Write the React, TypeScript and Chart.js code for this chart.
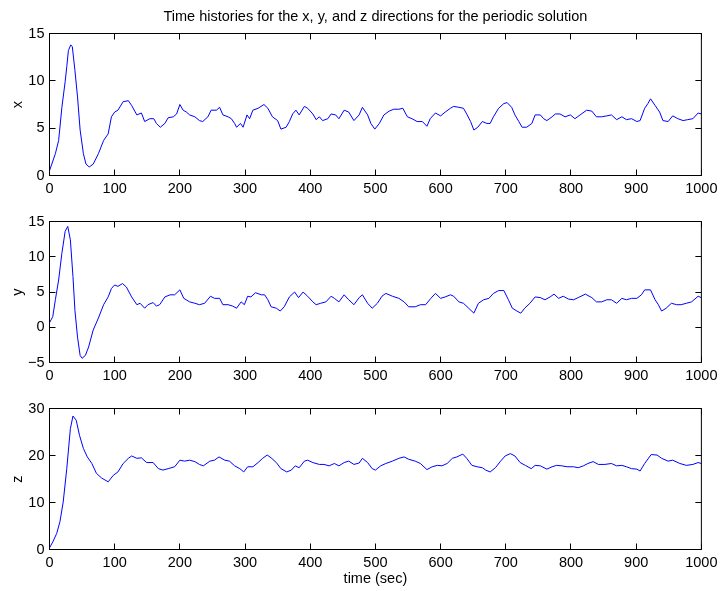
import React, { useEffect, useRef } from 'react';
import { Chart, registerables } from 'chart.js';

Chart.register(...registerables);

const FONT = '"Liberation Sans", Arial, Helvetica, sans-serif';

// ---- Data ----
const chartTitle = 'Time histories for the x, y, and z directions for the periodic solution';
const xAxisLabel = 'time (sec)';
const timeTicks = [0, 100, 200, 300, 400, 500, 600, 700, 800, 900, 1000];

const xTicks = [0, 5, 10, 15];
const yTicks = [-5, 0, 5, 10, 15];
const zTicks = [0, 10, 20, 30];

const xTimes = [0, 9, 14, 19, 24, 26.5, 29, 32.6, 35, 39, 43, 47, 52, 56, 61, 67, 75, 83, 90, 95, 100, 105, 113, 121, 126, 134, 141, 146, 154, 160, 164, 170, 177, 182, 190, 195, 200, 205, 210, 215, 223, 230, 235, 243, 248, 256, 261, 266, 274, 279, 284, 287, 293, 297, 303, 307, 312, 320, 329, 335, 342, 350, 355, 363, 368, 373, 378, 383, 391, 396, 404, 409, 414, 419, 427, 432, 439, 444, 452, 459, 467, 475, 480, 488, 493, 499, 506, 513, 521, 528, 536, 542, 549, 556, 564, 572, 579, 584, 592, 600, 607, 615, 620, 628, 635, 640, 646, 651, 657, 664, 671, 676, 681, 689, 697, 702, 709, 714, 720, 725, 732, 740, 745, 753, 758, 763, 771, 776, 783, 791, 799, 806, 814, 824, 832, 839, 847, 855, 862, 870, 878, 885, 893, 901, 906, 913, 918, 922, 929, 936, 941, 949, 956, 964, 972, 979, 987, 995, 1000];
const xValues = [0.5, 2.3, 3.7, 7.2, 9.9, 11.5, 13.2, 13.8, 13.6, 11.1, 8.3, 4.8, 2.3, 1.2, 0.9, 1.2, 2.3, 3.7, 4.4, 6.2, 6.7, 6.9, 7.8, 7.9, 7.4, 6.4, 6.6, 5.7, 6.0, 6.0, 5.5, 5.1, 5.5, 6.1, 6.2, 6.5, 7.5, 6.9, 6.7, 6.4, 6.2, 5.8, 5.7, 6.2, 6.9, 6.9, 7.2, 6.4, 6.2, 6.0, 5.5, 5.1, 5.5, 5.1, 6.4, 6.0, 6.9, 7.1, 7.5, 7.1, 6.2, 5.8, 4.9, 5.1, 5.7, 6.5, 6.9, 6.4, 7.3, 7.1, 6.5, 5.9, 6.2, 5.8, 6.0, 6.5, 6.4, 6.0, 6.9, 6.7, 5.8, 6.4, 7.2, 6.4, 5.5, 4.9, 5.5, 6.4, 6.8, 7.0, 7.0, 7.1, 6.2, 6.0, 5.7, 5.7, 5.2, 6.0, 6.6, 6.3, 6.7, 7.1, 7.3, 7.2, 7.1, 6.5, 5.7, 4.8, 5.1, 5.7, 5.5, 5.5, 6.2, 7.1, 7.6, 7.7, 7.2, 6.4, 5.7, 5.1, 5.1, 5.5, 6.4, 6.4, 6.0, 5.8, 6.2, 6.5, 6.5, 6.2, 6.4, 6.0, 6.4, 6.9, 6.8, 6.2, 6.2, 6.3, 6.4, 5.9, 6.2, 5.9, 6.0, 5.7, 5.8, 7.1, 7.6, 8.1, 7.4, 6.7, 5.8, 5.7, 6.3, 6.0, 5.8, 5.9, 6.0, 6.6, 6.5];

const yTimes = [0, 5, 9, 14, 19, 24, 28, 32, 36, 39, 43, 47, 50, 55, 60, 67, 75, 83, 90, 95, 100, 105, 112, 118, 126, 134, 139, 146, 151, 159, 164, 169, 177, 185, 192, 200, 206, 215, 223, 230, 238, 247, 253, 261, 266, 274, 281, 287, 294, 299, 304, 309, 316, 325, 330, 335, 340, 348, 354, 360, 368, 376, 382, 389, 396, 404, 409, 416, 424, 432, 437, 444, 452, 459, 467, 475, 480, 488, 495, 503, 510, 516, 526, 536, 544, 551, 561, 569, 577, 585, 592, 600, 607, 615, 620, 628, 635, 643, 651, 658, 666, 674, 681, 689, 697, 704, 710, 717, 723, 729, 737, 745, 753, 760, 768, 774, 781, 788, 796, 804, 811, 822, 832, 839, 847, 855, 862, 870, 878, 885, 893, 901, 908, 913, 922, 929, 934, 939, 946, 954, 962, 969, 977, 985, 995, 1000];
const yValues = [0.64, 1.5, 3.9, 6.7, 10.5, 13.6, 14.3, 12.4, 7.2, 2.4, -1.4, -4.0, -4.4, -4.0, -2.8, -0.4, 1.3, 3.2, 4.3, 5.5, 6.0, 5.8, 6.2, 5.7, 4.3, 3.2, 3.4, 2.7, 3.2, 3.5, 3.0, 3.2, 4.3, 4.6, 4.6, 5.3, 4.1, 3.6, 3.4, 3.2, 3.4, 4.4, 4.1, 4.1, 3.2, 3.2, 3.0, 2.7, 3.6, 3.2, 4.4, 4.3, 4.9, 4.6, 4.6, 3.9, 2.9, 2.7, 2.3, 2.9, 4.3, 5.0, 4.2, 5.0, 4.4, 3.6, 3.2, 3.4, 3.6, 4.4, 4.1, 3.6, 4.6, 3.9, 3.2, 4.2, 4.6, 3.4, 2.7, 3.4, 4.4, 4.8, 4.4, 4.1, 3.6, 2.9, 2.9, 3.2, 3.2, 4.1, 4.8, 4.1, 4.3, 4.6, 4.4, 3.6, 3.4, 2.7, 2.0, 3.4, 3.9, 4.1, 4.8, 5.2, 5.2, 3.9, 2.7, 2.3, 2.0, 2.7, 3.4, 4.3, 4.2, 3.9, 4.3, 4.7, 4.1, 4.4, 4.0, 3.9, 4.2, 4.7, 4.2, 3.6, 3.6, 3.9, 3.9, 3.4, 4.1, 3.9, 4.1, 4.1, 4.6, 5.3, 5.3, 3.9, 3.2, 2.3, 2.7, 3.4, 3.2, 3.2, 3.4, 3.6, 4.4, 4.2];

const zTimes = [0, 5, 11, 16, 21, 26.5, 32, 36, 41, 46, 52, 58, 65, 72, 80, 90, 98, 105, 113, 121, 126, 134, 141, 149, 159, 167, 174, 182, 192, 200, 207, 215, 223, 230, 236, 246, 253, 260, 269, 276, 284, 292, 298, 304, 312, 320, 327, 334, 340, 348, 355, 364, 371, 377, 383, 391, 396, 404, 414, 421, 429, 437, 444, 452, 459, 467, 475, 480, 488, 495, 500, 508, 516, 526, 536, 544, 551, 561, 569, 579, 587, 595, 602, 610, 618, 625, 634, 640, 648, 656, 664, 669, 676, 684, 692, 699, 707, 714, 722, 730, 739, 745, 753, 763, 771, 778, 786, 794, 804, 811, 819, 826, 834, 842, 852, 862, 870, 878, 885, 893, 901, 906, 913, 923, 932, 939, 949, 956, 967, 977, 987, 995, 1000];
const zValues = [0.35, 1.6, 3.4, 5.9, 10.1, 17.2, 25.7, 28.4, 27.5, 24.3, 21.5, 19.7, 18.3, 16.2, 15.2, 14.4, 15.8, 16.5, 18.3, 19.4, 19.9, 19.4, 19.5, 18.5, 18.5, 17.2, 16.9, 17.2, 17.6, 19.0, 18.8, 19.0, 18.7, 18.1, 17.8, 18.8, 19.0, 19.7, 19.0, 18.8, 17.8, 17.2, 16.5, 17.6, 17.6, 18.5, 19.4, 20.1, 19.5, 18.5, 17.2, 16.5, 16.9, 17.8, 17.4, 18.8, 19.0, 18.5, 18.1, 18.1, 17.8, 18.3, 17.8, 18.5, 18.8, 18.1, 18.4, 19.4, 18.5, 17.2, 16.9, 17.8, 18.3, 18.8, 19.4, 19.7, 19.2, 18.8, 18.3, 17.0, 17.6, 17.9, 17.8, 18.3, 19.4, 19.7, 20.3, 19.4, 17.9, 17.6, 17.4, 16.9, 16.5, 17.4, 18.8, 19.9, 20.4, 19.9, 18.5, 17.9, 17.2, 17.9, 17.8, 17.1, 17.6, 17.9, 17.8, 17.6, 17.6, 17.4, 17.8, 18.3, 18.7, 18.1, 18.1, 18.3, 17.8, 17.9, 17.6, 17.2, 17.1, 16.7, 18.3, 20.2, 20.1, 19.4, 18.8, 19.0, 18.3, 17.9, 18.1, 18.5, 18.3];

// ---- Helpers ----
const fmt = (v: number) => String(v).replace('-', '\u2212');

const boxPlugin = {
  id: 'matlabBox',
  afterDraw(chart: any) {
    const { ctx, chartArea: a, scales } = chart;
    const L = 6;
    ctx.save();
    ctx.strokeStyle = '#000';
    ctx.lineWidth = 1;
    ctx.beginPath();
    scales.x.ticks.forEach((t: any) => {
      const px = Math.floor(scales.x.getPixelForValue(t.value)) + 0.5;
      ctx.moveTo(px, a.bottom);
      ctx.lineTo(px, a.bottom - L);
      ctx.moveTo(px, a.top);
      ctx.lineTo(px, a.top + L);
    });
    scales.y.ticks.forEach((t: any) => {
      const py = Math.floor(scales.y.getPixelForValue(t.value)) + 0.5;
      ctx.moveTo(a.left, py);
      ctx.lineTo(a.left + L, py);
      ctx.moveTo(a.right, py);
      ctx.lineTo(a.right - L, py);
    });
    ctx.stroke();
    ctx.strokeRect(a.left, a.top, a.right - a.left, a.bottom - a.top);
    ctx.restore();
  },
};

type PanelProps = {
  times: number[];
  values: number[];
  yTickValues: number[];
  yLabel: string;
  top: number;
  height: number;
  padTop: number;
  xScaleHeight: number;
  title?: string;
  xLabel?: string;
};

function Panel(p: PanelProps) {
  const ref = useRef<HTMLCanvasElement>(null);
  useEffect(() => {
    if (!ref.current) return;
    const data = p.times.map((t, i) => ({ x: t, y: p.values[i] }));
    const tickFont = { family: FONT, size: 14.5, lineHeight: 1.2 };
    const chart = new Chart(ref.current, {
      type: 'line',
      data: {
        datasets: [
          {
            data,
            borderColor: '#0000ff',
            borderWidth: 1,
            pointRadius: 0,
            tension: 0,
            fill: false,
          },
        ],
      },
      options: {
        animation: false,
        responsive: false,
        devicePixelRatio: 1,
        events: [],
        layout: { padding: { left: 0, right: 18.5, top: p.title ? 0 : p.padTop, bottom: 0 } },
        plugins: {
          legend: { display: false },
          tooltip: { enabled: false },
          title: p.title
            ? {
                display: true,
                text: p.title,
                fullSize: false,
                color: '#000',
                font: { family: FONT, size: 14.5, weight: 'normal', lineHeight: 1.2 },
                padding: { top: 8, bottom: 8.1 },
              }
            : { display: false },
        },
        scales: {
          x: {
            type: 'linear',
            min: 0,
            max: 1000,
            offset: false,
            grid: { display: false, drawTicks: false },
            border: { display: false },
            ticks: {
              autoSkip: false,
              maxRotation: 0,
              color: '#000',
              font: tickFont,
              padding: 4.5,
              callback: (v: any) => fmt(Number(v)),
            },
            afterBuildTicks: (s: any) => {
              s.ticks = timeTicks.map((v) => ({ value: v }));
            },
            afterFit: (s: any) => {
              s.height = p.xScaleHeight;
            },
            title: p.xLabel
              ? {
                  display: true,
                  text: p.xLabel,
                  color: '#000',
                  font: tickFont,
                  padding: { top: 0, bottom: 3.3 },
                }
              : { display: false },
          },
          y: {
            type: 'linear',
            min: p.yTickValues[0],
            max: p.yTickValues[p.yTickValues.length - 1],
            grid: { display: false, drawTicks: false },
            border: { display: false },
            ticks: {
              autoSkip: false,
              color: '#000',
              font: tickFont,
              padding: 5,
              callback: (v: any) => fmt(Number(v)),
            },
            afterBuildTicks: (s: any) => {
              s.ticks = p.yTickValues.map((v) => ({ value: v }));
            },
            afterFit: (s: any) => {
              s.width = 49.5;
            },
            title: {
              display: true,
              text: p.yLabel,
              color: '#000',
              font: tickFont,
              padding: { top: 9.3, bottom: 0 },
            },
          },
        },
      } as any,
      plugins: [boxPlugin],
    });
    return () => chart.destroy();
  }, []);
  return (
    <div style={{ position: 'absolute', left: 0, top: p.top, width: 722, height: p.height }}>
      <canvas ref={ref} width={722} height={p.height} style={{ width: 722, height: p.height, display: 'block' }} />
    </div>
  );
}

export default function App() {
  return (
    <div style={{ position: 'absolute', left: 0, top: 0, width: 722, height: 591, background: '#fff' }}>
      <Panel times={xTimes} values={xValues} yTickValues={xTicks} yLabel="x" top={0} height={200} padTop={33.5} xScaleHeight={24.5} title={chartTitle} />
      <Panel times={yTimes} values={yValues} yTickValues={yTicks} yLabel="y" top={200} height={186} padTop={21.5} xScaleHeight={23.5} />
      <Panel times={zTimes} values={zValues} yTickValues={zTicks} yLabel="z" top={386} height={205} padTop={22.5} xScaleHeight={41.5} xLabel={xAxisLabel} />
    </div>
  );
}
